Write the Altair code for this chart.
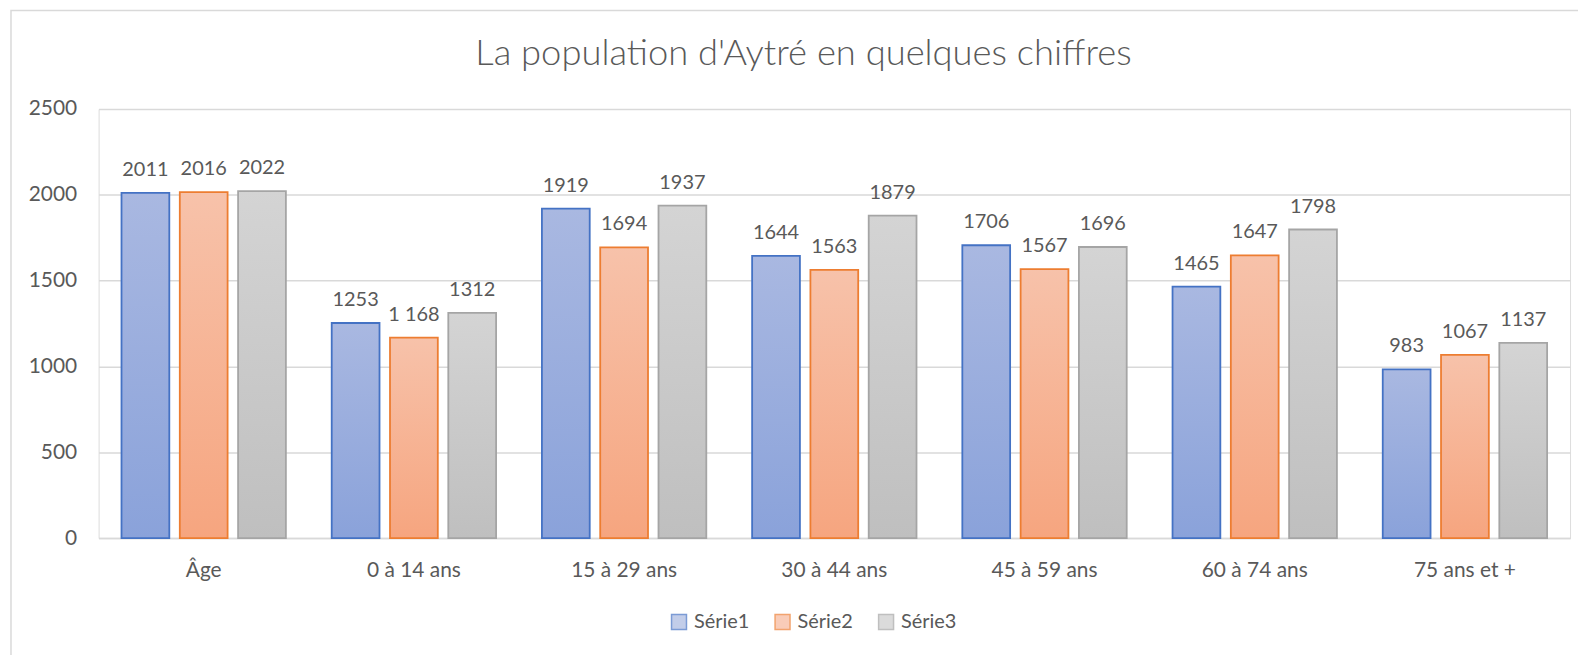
import altair as alt
import pandas as pd

categories = ["Âge", "0 à 14 ans", "15 à 29 ans", "30 à 44 ans", "45 à 59 ans", "60 à 74 ans", "75 ans et +"]
series = ["Série1", "Série2", "Série3"]
serie1 = [2011, 1253, 1919, 1644, 1706, 1465, 983]
serie2 = [2016, 1168, 1694, 1563, 1567, 1647, 1067]
serie3 = [2022, 1312, 1937, 1879, 1696, 1798, 1137]
labels1 = ["2011", "1253", "1919", "1644", "1706", "1465", "983"]
labels2 = ["2016", "1 168", "1694", "1563", "1567", "1647", "1067"]
labels3 = ["2022", "1312", "1937", "1879", "1696", "1798", "1137"]
y_ticks = [0, 500, 1000, 1500, 2000, 2500]

rows = []
for s, vals, labs in zip(series, [serie1, serie2, serie3], [labels1, labels2, labels3]):
    for c, v, l in zip(categories, vals, labs):
        rows.append({"cat": c, "serie": s, "value": v, "label": l})
df = pd.DataFrame(rows)

FONT = "Lato"
TXT = "#595959"
GRID = "#D9D9D9"

fills = {
    "Série1": ("#A9B8E1", "#8AA2DA"),
    "Série2": ("#F7C2AA", "#F6A57F"),
    "Série3": ("#D4D4D4", "#BFBFBF"),
}
strokes = {"Série1": "#4472C4", "Série2": "#ED7D31", "Série3": "#A5A5A5"}
legend_fill = ["#A9B8E1", "#F7B79B", "#CDCDCD"]

x_enc = alt.X("cat:N", sort=categories,
              scale=alt.Scale(paddingInner=0.218, paddingOuter=0.109),
              axis=alt.Axis(title=None, labelAngle=0, labelFont=FONT, labelFontSize=21,
                            labelColor=TXT, ticks=False, domainColor=GRID, domainWidth=1.5,
                            labelPadding=22, grid=False))
xo_enc = alt.XOffset("serie:N", scale=alt.Scale(domain=series, paddingInner=0.18))
y_enc = alt.Y("value:Q", scale=alt.Scale(domain=[0, 2500], nice=False),
              axis=alt.Axis(title=None, values=y_ticks, format="d", labelFont=FONT,
                            labelFontSize=21, labelColor=TXT, ticks=False, domain=False,
                            gridColor=GRID, gridWidth=1.5, labelPadding=22))

base = alt.Chart(df)

layers = []
for s in series:
    top, bot = fills[s]
    grad = {"gradient": "linear", "x1": 0, "y1": 0, "x2": 0, "y2": 1,
            "stops": [{"offset": 0, "color": top}, {"offset": 1, "color": bot}]}
    layers.append(
        base.transform_filter(alt.datum.serie == s)
        .mark_bar(fill=grad, stroke=strokes[s], strokeWidth=1.8)
        .encode(x=x_enc, xOffset=xo_enc, y=y_enc)
    )

text = base.mark_text(font=FONT, fontSize=20, color=TXT, dy=-17, baseline="alphabetic").encode(
    x=alt.X("cat:N", sort=categories), xOffset="serie:N", y="value:Q", text="label:N"
)

leg = alt.Legend(title=None, orient="none", legendX=573, legendY=505,
                 direction="horizontal", symbolType="square",
                 symbolSize=225, symbolStrokeWidth=1.5,
                 labelFont=FONT, labelFontSize=20, labelColor=TXT,
                 labelOffset=5, columnPadding=22)
legend_layer = base.transform_filter("false").mark_square(size=225, strokeWidth=1.5).encode(
    fill=alt.Fill("serie:N", scale=alt.Scale(domain=series, range=legend_fill), legend=leg),
    stroke=alt.Stroke("serie:N", scale=alt.Scale(domain=series, range=[strokes[s] for s in series]),
                      legend=leg),
)

border = alt.Chart(pd.DataFrame({"k": [0]})).mark_rect(
    fill=None, stroke=GRID, strokeWidth=1.5, clip=False
).encode(x=alt.value(-88), x2=alt.value(1502), y=alt.value(-99), y2=alt.value(700))

chart = alt.layer(border, *layers, text, legend_layer).properties(
    width=1478, height=431,
    title=alt.TitleParams("La population d'Aytré en quelques chiffres", font=FONT, fontSize=36.5,
                          fontWeight=300, color=TXT, anchor="middle", baseline="alphabetic",
                          frame="group", dx=-31, offset=-92),
    autosize=alt.AutoSizeParams(type="none"),
    padding={"left": 91, "top": 100, "right": 8, "bottom": 116},
).configure_view(stroke=None).configure(background="white")

chart.save("out.html", embed_options={"renderer": "svg", "actions": False})
